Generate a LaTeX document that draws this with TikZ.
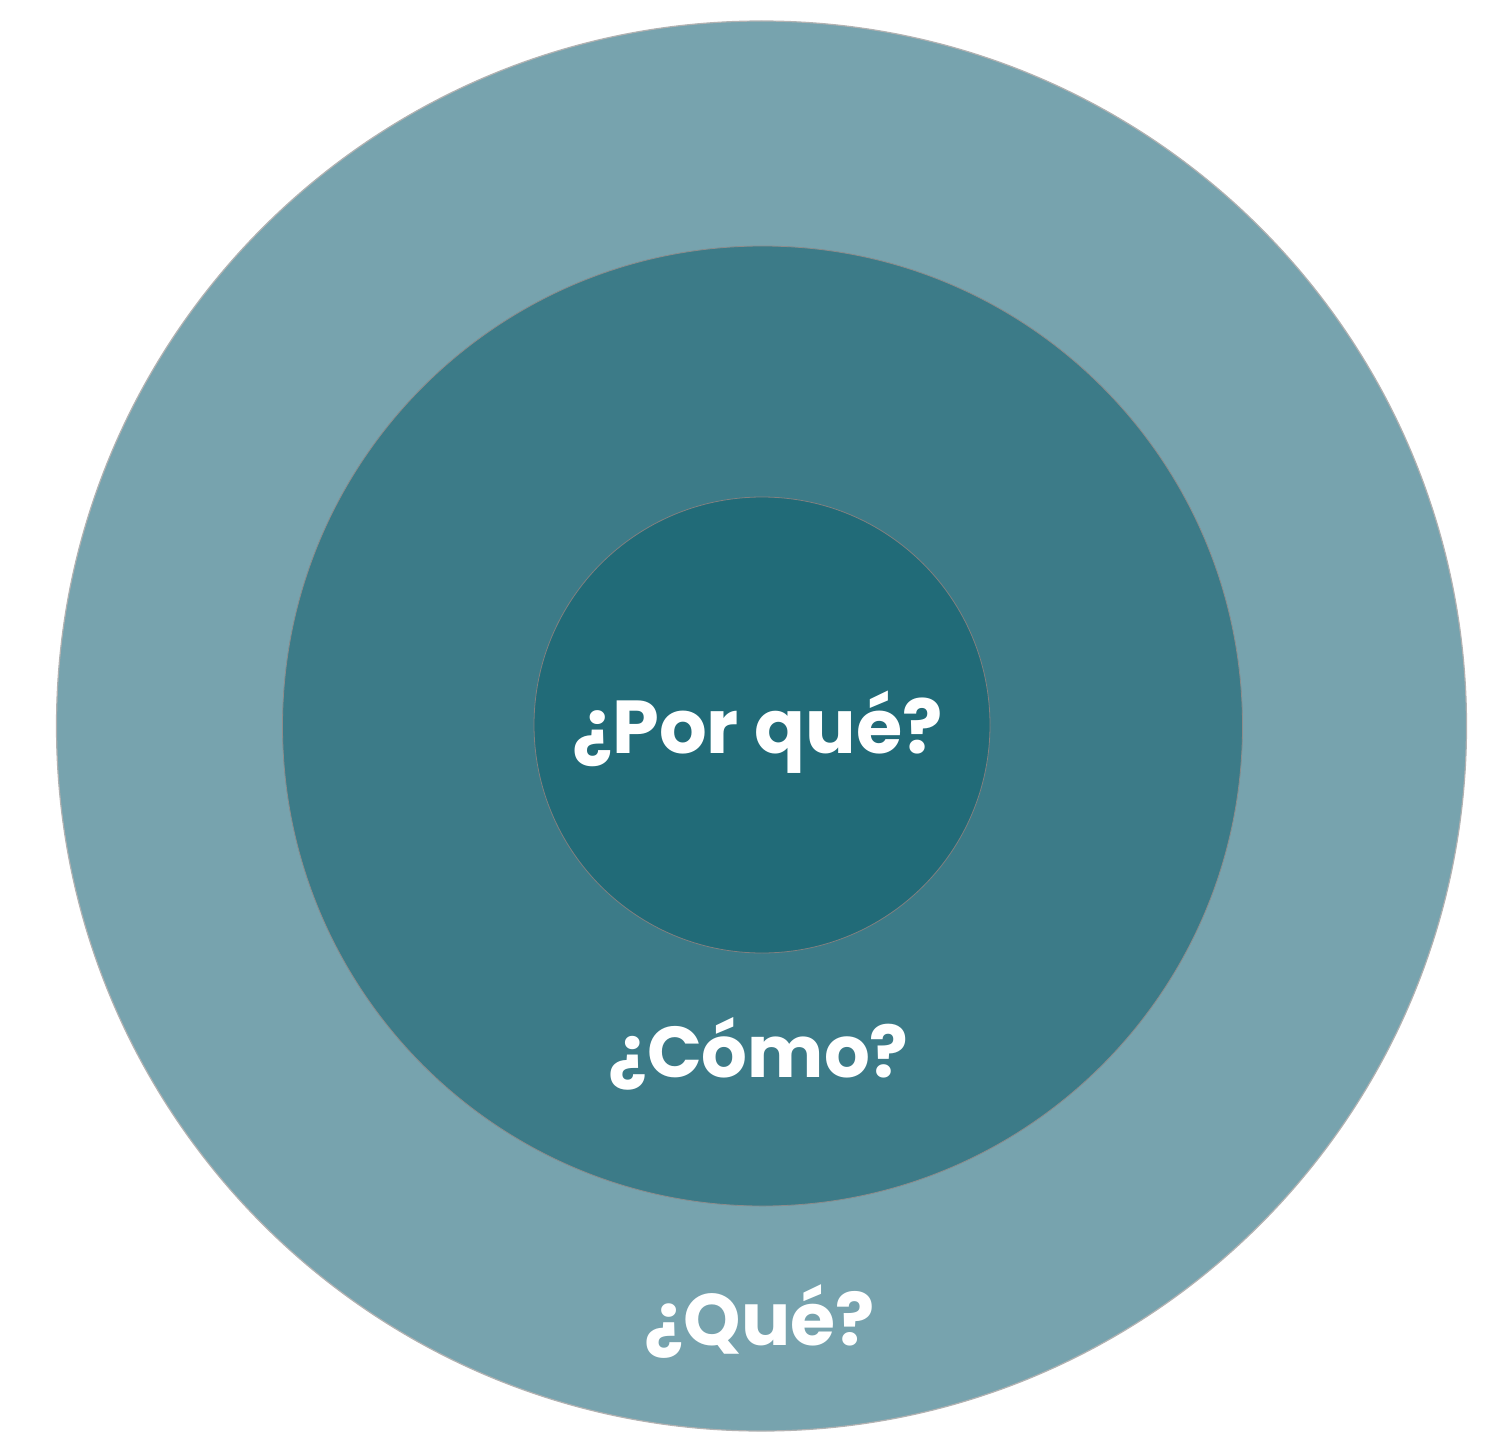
\documentclass[tikz,border=0pt]{standalone}
\usepackage{fontspec}
\setmainfont{Poppins}
\definecolor{outerc}{HTML}{77A3AE}
\definecolor{midc}{HTML}{3C7B88}
\definecolor{innerc}{HTML}{216B78}
\tikzset{
  ring/.style={circle, inner sep=0pt, outer sep=0pt},
  lbl/.style={text=white, font=\bfseries, anchor=base, inner sep=0pt}
}
\begin{document}
\begin{tikzpicture}[x=1pt,y=-1pt]
\useasboundingbox (0,0) rectangle (1496,1450);
\node[ring, minimum size=1410pt, fill=outerc, draw=black!30, line width=1.2pt] (outer) at (761.5,726) {};
\node[ring, minimum size=960pt, fill=midc, draw=black!45, line width=0.8pt] (mid) at (762.5,726) {};
\node[ring, minimum size=456pt, fill=innerc, draw=black!50, line width=0.8pt] (inner) at (762,725) {};
\node[lbl, font=\fontsize{75}{75}\selectfont\bfseries] (por) at (757.5,753) {¿Por qué?};
\node[lbl, font=\fontsize{72}{72}\selectfont\bfseries] (como) at (758.5,1077) {¿Cómo?};
\node[lbl, font=\fontsize{73}{73}\selectfont\bfseries] (que) at (759.5,1345) {¿Qué?};
\end{tikzpicture}
\end{document}
